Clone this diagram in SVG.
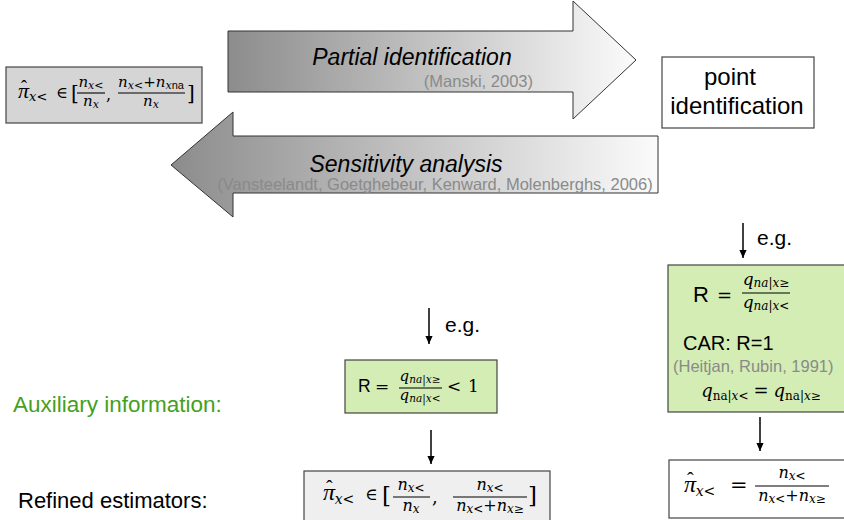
<svg xmlns="http://www.w3.org/2000/svg" width="844" height="520" viewBox="0 0 844 520">
<style>
.sans{font-family:"Liberation Sans","DejaVu Sans",sans-serif;}
.it{font-family:"DejaVu Serif","Liberation Serif",serif;font-style:italic;}
.rm{font-family:"DejaVu Serif","Liberation Serif",serif;font-style:normal;}
.pi{font-family:"Liberation Serif","DejaVu Serif",serif;font-style:italic;}
.hat{font-family:"Liberation Serif","DejaVu Serif",serif;font-style:normal;}
.cite{font-family:"Liberation Sans","DejaVu Sans",sans-serif;fill:#8a8a8a;}
.box{stroke:#444;stroke-width:1.2;}
.bar{stroke:#000;stroke-width:1.1;}
.conn{stroke:#000;stroke-width:1.5;fill:none;marker-end:url(#ah);}
.mid{text-anchor:middle;}
</style>
<defs>
<linearGradient id="gR" gradientUnits="userSpaceOnUse" x1="228" y1="0" x2="636" y2="0">
<stop offset="0" stop-color="#8c8c8c"/><stop offset="1" stop-color="#fbfbfb"/>
</linearGradient>
<linearGradient id="gL" gradientUnits="userSpaceOnUse" x1="171" y1="0" x2="658" y2="0">
<stop offset="0" stop-color="#8c8c8c"/><stop offset="1" stop-color="#fbfbfb"/>
</linearGradient>
<marker id="ah" viewBox="0 0 10 10" refX="10" refY="5" markerWidth="9" markerHeight="8" orient="auto" markerUnits="userSpaceOnUse">
<path d="M0,0.5 L10,5 L0,9.5 z" fill="#000"/>
</marker>
</defs>
<rect width="844" height="520" fill="#fff"/>

<g id="arrow-partial">
<polygon points="228,31 573,31 573,1 636,60 573,119 573,92 228,92" fill="url(#gR)" stroke="#333" stroke-width="1"/>
<text class="sans mid" x="412" y="65" font-size="23" font-style="italic">Partial identification</text>
<text class="cite" x="533" y="87" font-size="16.5" text-anchor="end">(Manski, 2003)</text>
</g>

<g id="arrow-sensitivity">
<polygon points="658,136 233,136 233,112 171,165 233,217 233,193 658,193" fill="url(#gL)" stroke="#333" stroke-width="1"/>
<text class="sans mid" x="406" y="172" font-size="23" font-style="italic">Sensitivity analysis</text>
<text class="cite mid" x="435" y="190" font-size="16.5">(Vansteelandt, Goetghebeur, Kenward, Molenberghs, 2006)</text>
</g>

<g id="node-bounds">
<rect class="box" x="6" y="67" width="196" height="56" fill="#d5d5d5"/>
<text x="18" y="98"><tspan class="pi" font-size="22">π</tspan><tspan class="hat" font-size="18" dx="-8" dy="-5">ˆ</tspan><tspan class="it" font-size="13" dx="2" dy="8">x</tspan><tspan class="rm" font-size="13">&lt;</tspan></text>
<text class="rm" x="56" y="98" font-size="16">∈</text>
<text class="rm" x="71" y="100" font-size="20">[</text>
<text class="mid" x="91" y="87"><tspan class="it" font-size="15">n</tspan><tspan class="it" font-size="11" dy="2">x</tspan><tspan class="rm" font-size="11">&lt;</tspan></text>
<line class="bar" x1="77" y1="93" x2="105" y2="93"/>
<text class="mid" x="91" y="106"><tspan class="it" font-size="15">n</tspan><tspan class="it" font-size="11" dy="2">x</tspan></text>
<text class="rm" x="106" y="100" font-size="16">,</text>
<text class="mid" x="151" y="87"><tspan class="it" font-size="15">n</tspan><tspan class="it" font-size="11" dy="2">x</tspan><tspan class="rm" font-size="11">&lt;</tspan><tspan class="rm" font-size="15" dy="-2">+</tspan><tspan class="it" font-size="15">n</tspan><tspan class="it" font-size="11" dy="2">x</tspan><tspan class="sans" font-size="11">na</tspan></text>
<line class="bar" x1="118" y1="93" x2="185" y2="93"/>
<text class="mid" x="151" y="106"><tspan class="it" font-size="15">n</tspan><tspan class="it" font-size="11" dy="2">x</tspan></text>
<text class="rm" x="187" y="100" font-size="20">]</text>
</g>

<g id="node-point">
<rect class="box" x="662" y="57" width="152" height="71" fill="#fff"/>
<text class="sans mid" x="730" y="85" font-size="24">point</text>
<text class="sans mid" x="737" y="114" font-size="24">identification</text>
</g>

<g id="label-aux">
<text class="sans" x="13" y="412" font-size="22.5" fill="#44a020">Auxiliary information:</text>
</g>
<g id="label-refined">
<text class="sans" x="18" y="508" font-size="22">Refined estimators:</text>
</g>

<g id="node-aux-lt1">
<rect class="box" x="345" y="360" width="152" height="53" fill="#d3edb4"/>
<text class="sans" x="358" y="392" font-size="17.5">R</text>
<text class="rm" x="375" y="392" font-size="17">=</text>
<text class="mid" x="420" y="381"><tspan class="it" font-size="15">q</tspan><tspan class="it" font-size="10.5" dy="2">na|x</tspan><tspan class="rm" font-size="10.5">≥</tspan></text>
<line class="bar" x1="399" y1="388" x2="442" y2="388"/>
<text class="mid" x="420" y="400"><tspan class="it" font-size="15">q</tspan><tspan class="it" font-size="10.5" dy="2">na|x</tspan><tspan class="rm" font-size="10.5">&lt;</tspan></text>
<text class="rm" x="447" y="392" font-size="17">&lt;</text>
<text class="rm" x="468" y="392" font-size="17">1</text>
</g>

<g id="node-aux-car">
<rect class="box" x="668" y="265" width="184" height="147" fill="#d3edb4"/>
<text class="sans" x="693" y="302" font-size="22">R</text>
<text class="rm" x="717" y="302" font-size="18">=</text>
<text class="mid" x="766" y="285"><tspan class="it" font-size="17">q</tspan><tspan class="it" font-size="12" dy="2">na|x</tspan><tspan class="rm" font-size="12">≥</tspan></text>
<line class="bar" x1="742" y1="293" x2="790" y2="293"/>
<text class="mid" x="766" y="308"><tspan class="it" font-size="17">q</tspan><tspan class="it" font-size="12" dy="2">na|x</tspan><tspan class="rm" font-size="12">&lt;</tspan></text>
<text class="sans" x="683" y="350" font-size="20">CAR: R=1</text>
<text class="cite" x="673" y="372" font-size="16.5">(Heitjan, Rubin, 1991)</text>
<text class="mid" x="761" y="397"><tspan class="it" font-size="18">q</tspan><tspan class="rm" font-size="12" dy="3">na|</tspan><tspan class="it" font-size="12">x</tspan><tspan class="rm" font-size="12">&lt;</tspan><tspan class="rm" font-size="18" dy="-3" dx="5">=</tspan><tspan class="it" font-size="18" dx="5">q</tspan><tspan class="rm" font-size="12" dy="3">na|</tspan><tspan class="it" font-size="12">x</tspan><tspan class="rm" font-size="12">≥</tspan></text>
</g>

<g id="node-refined-bounds">
<rect class="box" x="304" y="471" width="246" height="60" fill="#efefef"/>
<text x="323" y="500"><tspan class="pi" font-size="24">π</tspan><tspan class="hat" font-size="20" dx="-9" dy="-5">ˆ</tspan><tspan class="it" font-size="14" dx="2" dy="9">x</tspan><tspan class="rm" font-size="14">&lt;</tspan></text>
<text class="rm" x="365" y="500" font-size="17">∈</text>
<text class="rm" x="382" y="503" font-size="23">[</text>
<text class="mid" x="411" y="490"><tspan class="it" font-size="16">n</tspan><tspan class="it" font-size="12" dy="2">x</tspan><tspan class="rm" font-size="12">&lt;</tspan></text>
<line class="bar" x1="393" y1="497" x2="430" y2="497"/>
<text class="mid" x="411" y="511"><tspan class="it" font-size="16">n</tspan><tspan class="it" font-size="12" dy="2">x</tspan></text>
<text class="rm" x="432" y="503" font-size="18">,</text>
<text class="mid" x="490" y="490"><tspan class="it" font-size="16">n</tspan><tspan class="it" font-size="12" dy="2">x</tspan><tspan class="rm" font-size="12">&lt;</tspan></text>
<line class="bar" x1="453" y1="497" x2="527" y2="497"/>
<text class="mid" x="490" y="511"><tspan class="it" font-size="16">n</tspan><tspan class="it" font-size="12" dy="2">x</tspan><tspan class="rm" font-size="12">&lt;</tspan><tspan class="rm" font-size="16" dy="-2">+</tspan><tspan class="it" font-size="16">n</tspan><tspan class="it" font-size="12" dy="2">x</tspan><tspan class="rm" font-size="12">≥</tspan></text>
<text class="rm" x="528" y="503" font-size="23">]</text>
</g>

<g id="node-refined-point">
<rect class="box" x="669" y="460" width="184" height="58" fill="#fff"/>
<text x="684" y="492"><tspan class="pi" font-size="24">π</tspan><tspan class="hat" font-size="20" dx="-9" dy="-5">ˆ</tspan><tspan class="it" font-size="14" dx="2" dy="9">x</tspan><tspan class="rm" font-size="14">&lt;</tspan></text>
<text class="rm" x="730" y="492" font-size="21">=</text>
<text class="mid" x="792" y="478"><tspan class="it" font-size="16">n</tspan><tspan class="it" font-size="12" dy="2">x</tspan><tspan class="rm" font-size="12">&lt;</tspan></text>
<line class="bar" x1="755" y1="486" x2="829" y2="486"/>
<text class="mid" x="792" y="501"><tspan class="it" font-size="16">n</tspan><tspan class="it" font-size="12" dy="2">x</tspan><tspan class="rm" font-size="12">&lt;</tspan><tspan class="rm" font-size="16" dy="-2">+</tspan><tspan class="it" font-size="16">n</tspan><tspan class="it" font-size="12" dy="2">x</tspan><tspan class="rm" font-size="12">≥</tspan></text>
</g>

<g id="connectors">
<line class="conn" x1="743" y1="223" x2="743" y2="258"/>
<text class="sans" x="757" y="245" font-size="21">e.g.</text>
<line class="conn" x1="760" y1="417" x2="760" y2="451"/>
<line class="conn" x1="429" y1="308" x2="429" y2="344"/>
<text class="sans" x="445" y="332" font-size="21">e.g.</text>
<line class="conn" x1="431" y1="430" x2="431" y2="464"/>
</g>
</svg>
